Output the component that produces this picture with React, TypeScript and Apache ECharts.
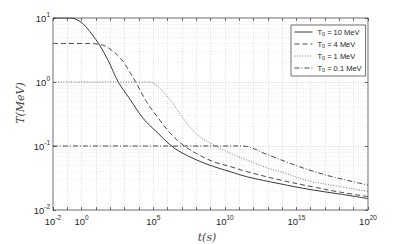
import React, { useEffect, useRef } from "react";
import * as echarts from "echarts";

// time values are given as log10(t / s); temperatures in MeV
const seriesNames = ["T0 = 10 MeV", "T0 = 4 MeV", "T0 = 1 MeV", "T0 = 0.1 MeV"];

const tExp10 = [-2, -1.5, -0.8, -0.4, 0.12, 0.7, 1.24, 1.86, 2.56, 3.38, 4.3, 5.24, 6.17, 6.87, 8.04, 9.2, 10.36, 11.53, 13.85, 15.95, 18, 20];
const T10 = [10, 10, 10, 9.55, 8.05, 5.62, 3.83, 2.15, 1.0, 0.537, 0.269, 0.166, 0.105, 0.0813, 0.0603, 0.0479, 0.0398, 0.0331, 0.0257, 0.0209, 0.0178, 0.0151];

const tExp4 = [-2, 0.5, 0.9, 1.5, 1.98, 2.5, 2.91, 3.3, 3.75, 4.54, 5.47, 6.2, 7.0, 8.04, 9.2, 10.36, 11.53, 13.85, 16.18, 18, 20];
const T4 = [4.0, 4.0, 3.96, 3.76, 3.28, 2.63, 2.07, 1.51, 1.02, 0.49, 0.251, 0.158, 0.107, 0.0759, 0.0569, 0.0479, 0.0398, 0.0295, 0.0229, 0.0191, 0.0162];

const tExp1 = [-2, 4.66, 5.0, 5.47, 6.29, 6.87, 7.7, 8.4, 9.2, 10.36, 11.53, 12.92, 13.85, 15.95, 18, 20];
const T1 = [1, 1, 0.955, 0.794, 0.49, 0.316, 0.182, 0.132, 0.105, 0.0776, 0.0603, 0.0457, 0.0398, 0.0282, 0.0234, 0.0195];

const tExp01 = [-2, 11.0, 11.6, 12.23, 12.69, 13.39, 14.55, 15.95, 17.5, 20];
const T01 = [0.1, 0.1, 0.0977, 0.0871, 0.0776, 0.0676, 0.0537, 0.0417, 0.0331, 0.0245];

const xLabelExps = [-2, 0, 5, 10, 15, 20];
const yLabelExps = [-2, -1, 0, 1];

const toPairs = (exps: number[], vals: number[]) => exps.map((e, i) => [Math.pow(10, e), vals[i]]);

const supRich = {
  b: { fontSize: 9.5, color: "#262626", fontFamily: "Liberation Sans" },
  s: { fontSize: 6.5, color: "#262626", fontFamily: "Liberation Sans", padding: [0, 0, 7, 0] },
};

export default function App() {
  const ref = useRef<HTMLDivElement>(null);
  useEffect(() => {
    const chart = echarts.init(ref.current!, null, { renderer: "svg" });
    const minorVals: number[] = [];
    for (let d = -2; d < 1; d++) for (let k = 2; k <= 9; k++) minorVals.push(k * Math.pow(10, d));

    const gridLine = { show: true, lineStyle: { type: [1, 1.5], color: "#c8c8c8", width: 0.6 } };
    const tick = { show: true, inside: true, length: 3, lineStyle: { color: "#333", width: 0.7 } };
    const lineColors = ["#222", "#333", "#666", "#333"];
    const dashes: any[] = ["solid", [5, 3], [1, 1.6], [5, 2, 1, 2]];
    const datas = [toPairs(tExp10, T10), toPairs(tExp4, T4), toPairs(tExp1, T1), toPairs(tExp01, T01)];

    const expOf = (v: number) => Math.round(Math.log10(v));

    chart.setOption({
      animation: false,
      backgroundColor: "#fff",
      grid: { left: 53, right: 39, top: 18, bottom: 34, show: true, borderColor: "#444", borderWidth: 0.8, backgroundColor: "#fff" },
      legend: {
        orient: "vertical",
        left: 291,
        top: 25,
        itemWidth: 18,
        itemHeight: 8,
        itemGap: 3,
        padding: [3, 4, 3, 3],
        backgroundColor: "#fff",
        borderColor: "#333",
        borderWidth: 0.7,
        selectedMode: false,
        data: seriesNames,
        itemStyle: { color: "transparent", borderWidth: 0, opacity: 0 },
        lineStyle: { width: 0.9 },
        formatter: (name: string) => `{t|T}{u|0}{t|${name.slice(2)}}`,
        textStyle: {
          rich: {
            t: { fontSize: 7.5, color: "#262626", fontFamily: "Liberation Sans" },
            u: { fontSize: 5.5, color: "#262626", fontFamily: "Liberation Sans", padding: [4, 0, 0, 0] },
          },
        },
      },
      xAxis: [
        {
          type: "log", logBase: 10, min: 0.01, max: 1e20, interval: 1,
          axisLine: { show: false }, axisTick: tick, splitLine: gridLine,
          axisLabel: {
            margin: 4,
            formatter: (v: number) => {
              const e = expOf(v);
              return xLabelExps.includes(e) ? `{b|10}{s|${e}}` : "";
            },
            rich: supRich,
          },
        },
        {
          type: "log", logBase: 10, min: 0.01, max: 1e20, interval: 1, position: "top",
          axisLine: { show: false }, axisTick: tick, splitLine: { show: false }, axisLabel: { show: false },
        },
      ],
      yAxis: [
        {
          type: "log", logBase: 10, min: 0.01, max: 10, interval: 1,
          axisLine: { show: false }, axisTick: tick,
          splitLine: { show: true, lineStyle: { type: [1, 1.5], color: "#b8b8b8", width: 0.6 } },
          axisLabel: {
            margin: 3,
            formatter: (v: number) => {
              const e = expOf(v);
              return yLabelExps.includes(e) ? `{b|10}{s|${e}}` : "";
            },
            rich: supRich,
          },
        },
        {
          type: "log", logBase: 10, min: 0.01, max: 10, interval: 1, position: "right",
          axisLine: { show: false }, axisTick: tick, splitLine: { show: false }, axisLabel: { show: false },
        },
      ],
      series: seriesNames.map((name, i) => ({
        name,
        type: "line",
        data: datas[i],
        symbol: "none",
        smooth: 0.35,
        lineStyle: { color: lineColors[i], width: 0.9, type: dashes[i] },
        itemStyle: { color: lineColors[i] },
        z: 5,
        markLine:
          i === 0
            ? {
                silent: true,
                symbol: "none",
                label: { show: false },
                lineStyle: { type: [1, 1.5], color: "#dadada", width: 0.5 },
                data: minorVals.map((v) => ({ yAxis: v })),
                z: 1,
              }
            : undefined,
      })),
      graphic: [
        {
          type: "text",
          x: 20,
          y: 103,
          rotation: Math.PI / 2,
          style: { text: "T(MeV)", font: 'italic 11px "DejaVu Serif"', fill: "#444", textAlign: "center", textVerticalAlign: "middle" },
        },
        {
          type: "text",
          x: 207,
          y: 237,
          style: { text: "t(s)", font: 'italic 11px "DejaVu Serif"', fill: "#444", textAlign: "center", textVerticalAlign: "middle" },
        },
      ],
    });
    return () => chart.dispose();
  }, []);
  return <div ref={ref} style={{ position: "absolute", left: 0, top: 0, width: 407, height: 244 }} />;
}
